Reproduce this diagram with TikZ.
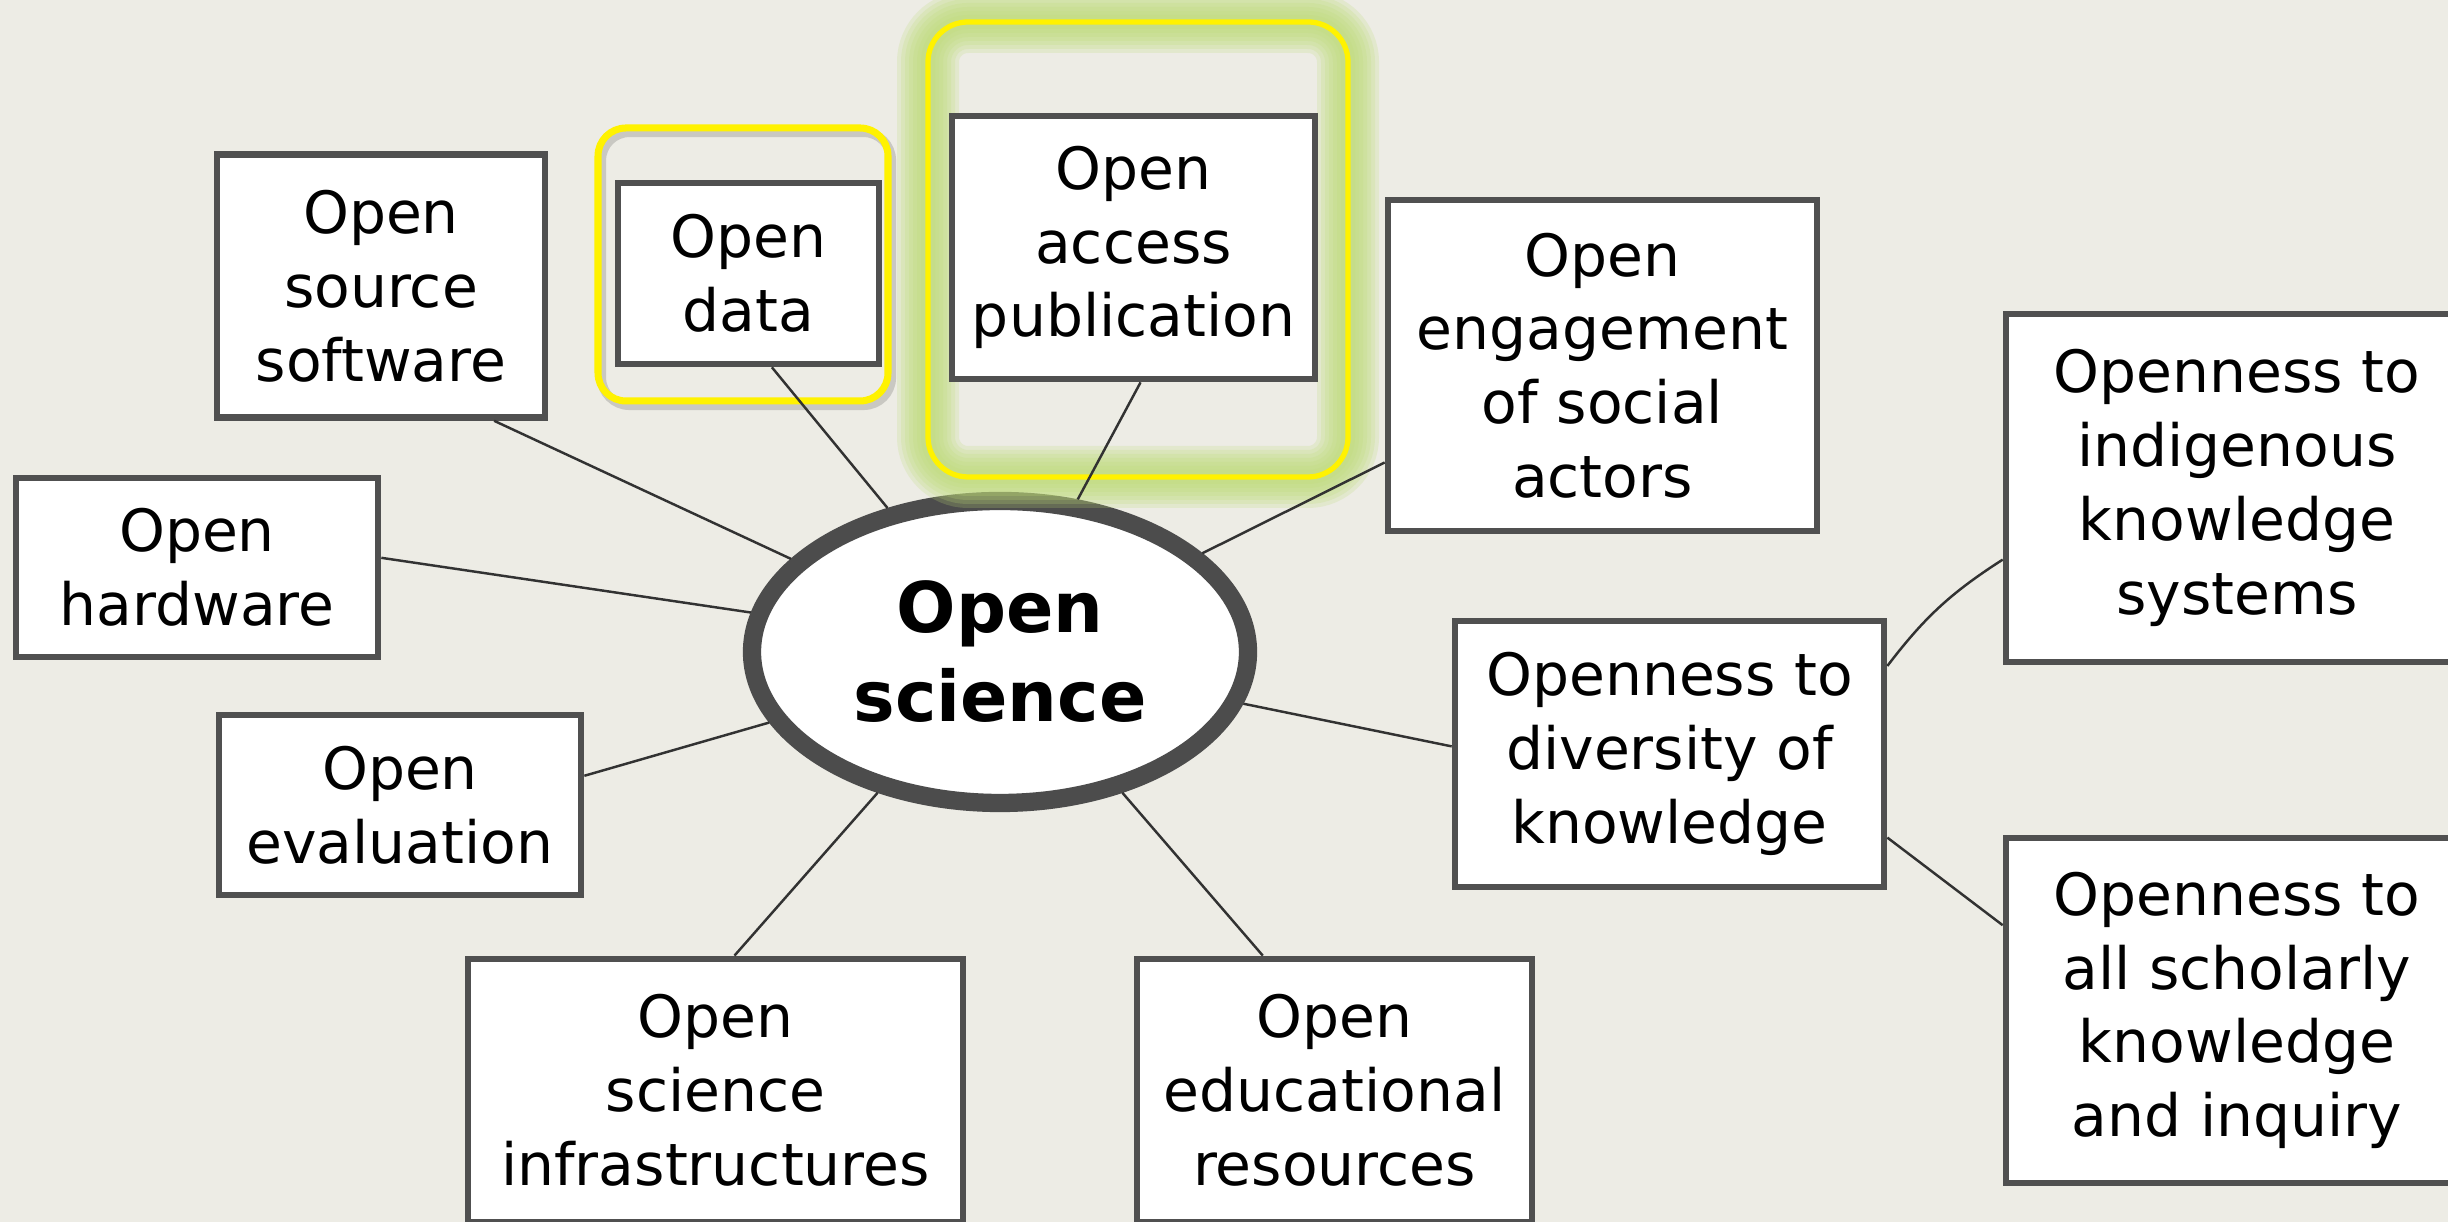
\documentclass[tikz,border=0pt]{standalone}
\usepackage{fontspec}
\setmainfont{DejaVu Sans}
\usetikzlibrary{shapes.geometric}
\definecolor{slidebg}{RGB}{237,236,229}
\definecolor{boxline}{RGB}{80,80,80}
\definecolor{linkline}{RGB}{50,50,50}
\definecolor{glowgreen}{RGB}{190,220,120}
\tikzset{conceptbox/.style={draw=boxline,line width=1.9pt,fill=white,align=center,inner sep=0pt,font=\fontsize{16.6pt}{21pt}\selectfont},
	boxsize/.style 2 args={minimum width=#1cm,minimum height=#2cm},
	hub/.style={ellipse,draw=black!70,line width=5.2pt,fill=white,align=center,inner sep=0pt,font=\fontsize{19.9pt}{25.3pt}\selectfont\bfseries,minimum width=4.96cm,minimum height=3.02cm},
	link/.style={linkline,line width=0.7pt},
	marker/.style={yellow,line width=2pt}}

\begin{document}
\begin{tikzpicture}
		\useasboundingbox (0,0) rectangle (24.48,12.22);
		\clip (0,0) rectangle (24.48,12.22);
		\fill[slidebg] (0,0) rectangle (24.48,12.22);
		\node[hub] (sci) at (10.00,5.70) {Open\\science};
		\foreach \w in {0.62,0.54,0.46,0.38,0.30,0.22,0.14}
			\draw[glowgreen,line width=\w cm,opacity=0.22,rounded corners=0.4cm] (9.28,7.45) rectangle (13.48,12.0);
		\draw[marker,line width=1.5pt,rounded corners=0.4cm] (9.28,7.45) rectangle (13.48,12.0);
		\draw[black,opacity=0.15,line width=2.6pt,rounded corners=0.28cm,xshift=0.35mm,yshift=-0.45mm] (5.98,8.21) rectangle (8.88,10.94);
		\draw[marker,rounded corners=0.28cm] (5.98,8.21) rectangle (8.88,10.94);
		\node[conceptbox,boxsize={3.28}{2.63}] (oss) at (3.81,9.36) {Open\\source\\software};
		\node[conceptbox,boxsize={2.61}{1.81}] (data) at (7.485,9.485) {Open\\data};
		\node[conceptbox,boxsize={3.63}{2.63}] (oap) at (11.335,9.745) {Open\\access\\publication};
		\node[conceptbox,boxsize={4.29}{3.31}] (eng) at (16.025,8.565) {Open\\engagement\\of social\\actors};
		\node[conceptbox,boxsize={3.62}{1.79}] (hw) at (1.97,6.545) {Open\\hardware};
		\node[conceptbox,boxsize={3.62}{1.80}] (eval) at (4.00,4.17) {Open\\evaluation};
		\node[conceptbox,boxsize={4.95}{2.63}] (infra) at (7.155,1.315) {Open\\science\\infrastructures};
		\node[conceptbox,boxsize={3.95}{2.63}] (edu) at (13.345,1.315) {Open\\educational\\resources};
		\node[conceptbox,boxsize={4.29}{2.66}] (div) at (16.695,4.68) {Openness to\\diversity of\\knowledge};
		\node[conceptbox,boxsize={4.62}{3.48}] (ind) at (22.37,7.34) {Openness to\\indigenous\\knowledge\\systems};
		\node[conceptbox,boxsize={4.62}{3.45}] (sch) at (22.37,2.115) {Openness to\\all scholarly\\knowledge\\and inquiry};
		\draw[link] (sci.156) -- (oss.-50);
		\draw[link] (sci.128) -- (data.-76);
		\draw[link] (sci.63) -- (oap.-87);
		\draw[link] (sci.26) -- (eng.204);
		\draw[link] (sci.171) -- (hw.3);
		\draw[link] (sci.197) -- (eval.9);
		\draw[link] (sci.229) -- (infra.82);
		\draw[link] (sci.311) -- (edu.118);
		\draw[link] (sci.-12) -- (div.178);
		\draw[link] (div.22) to[bend left=10] (ind.197);
		\draw[link] (div.-21) -- (sch.160);
		\end{tikzpicture}
\end{document}
